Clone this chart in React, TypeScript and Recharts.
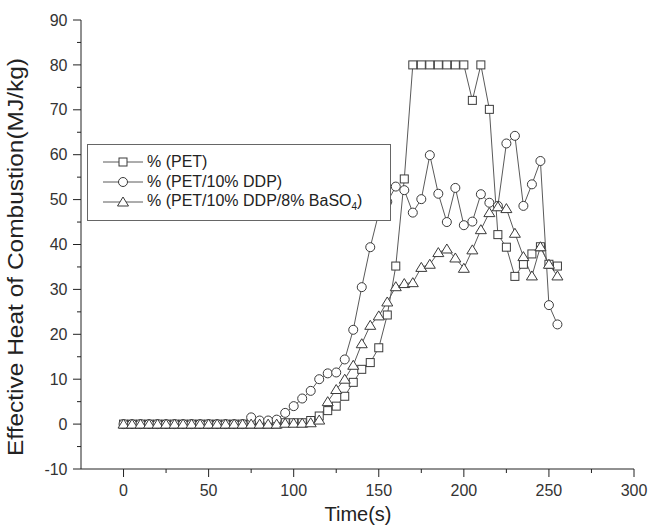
import { LineChart, Line, XAxis, YAxis, Label } from 'recharts'

const times = [
  0, 5, 10, 15, 20, 25, 30, 35, 40, 45, 50, 55, 60, 65, 70, 75, 80, 85, 90, 95,
  100, 105, 110, 115, 120, 125, 130, 135, 140, 145, 150, 155, 160, 165, 170, 175, 180, 185, 190, 195,
  200, 205, 210, 215, 220, 225, 230, 235, 240, 245, 250, 255,
]

// % (PET) - squares
const petValues = [
  0, 0, 0, 0, 0, 0, 0, 0, 0, 0, 0, 0, 0, 0, 0, 0, 0, 0, 0, 0.3,
  0.3, 0.3, 0.8, 1.8, 3.0, 4.0, 6.2, 9.3, 12.2, 13.7, 17.0, 24.3, 35.2, 54.6, 80, 80, 80, 80, 80, 80,
  80, 72.1, 80, 70.1, 42.2, 39.4, 32.9, 35.6, 37.9, 39.5, 35.6, 35.2,
]

// % (PET/10% DDP) - circles
const ddpValues = [
  0, 0, 0, 0, 0, 0, 0, 0, 0, 0, 0, 0, 0, 0, 0, 1.5, 0.8, 0.8, 1.0, 2.5,
  4.0, 5.7, 7.4, 10.0, 11.3, 11.5, 14.4, 21.0, 30.5, 39.4, 47.0, 49.5, 52.9, 52.1, 47.1, 50.1, 59.9, 51.3, 45.0, 52.6,
  44.3, 45.1, 51.2, 49.3, 48.6, 62.5, 64.2, 48.6, 53.4, 58.6, 26.5, 22.2,
]

// % (PET/10% DDP/8% BaSO4) - triangles
const basoValues = [
  0, 0, 0, 0, 0, 0, 0, 0, 0, 0, 0, 0, 0, 0, 0, 0, 0, 0, 0, 0.2,
  0.2, 0.2, 0.3, 0.9, 5.0, 7.7, 10.0, 13.1, 17.9, 22.0, 24.1, 27.2, 30.6, 31.3, 31.5, 34.9, 35.6, 38.2, 39.0, 37.0,
  34.7, 38.8, 43.3, 47.1, 48.4, 48.0, 42.5, 37.3, 33.0, 39.5, 35.6, 33.0,
]

const xTicks = [0, 25, 50, 75, 100, 125, 150, 175, 200, 225, 250, 275, 300]
const yTicks = [-10, -5, 0, 5, 10, 15, 20, 25, 30, 35, 40, 45, 50, 55, 60, 65, 70, 75, 80, 85, 90]

const data = times.map((t, i) => ({ t, pet: petValues[i], ddp: ddpValues[i], baso: basoValues[i] }))

const FONT = '"Liberation Sans", Arial, sans-serif'
const LINE = '#5a5a5a'
const MARK = '#3a3a3a'

function marker(shape: string, cx: number, cy: number, key?: any) {
  if (shape === 'square')
    return <rect key={key} x={cx - 4} y={cy - 4} width={8} height={8} fill="#fff" stroke={MARK} />
  if (shape === 'circle')
    return <circle key={key} cx={cx} cy={cy} r={4.5} fill="#fff" stroke={MARK} />
  return <path key={key} d={`M${cx},${cy - 5}L${cx + 5.5},${cy + 4}L${cx - 5.5},${cy + 4}Z`} fill="#fff" stroke={MARK} />
}

const dotFor = (shape: string) => (props: any) => {
  const { cx, cy, index } = props
  if (cx == null || cy == null) return <g key={index} />
  return marker(shape, cx, cy, index)
}

const XTick = (props: any) => {
  const { x, y, payload } = props
  const major = payload.value % 50 === 0
  return (
    <g>
      <line x1={x} x2={x} y1={y} y2={y + (major ? 8 : 4)} stroke="#222" />
      {major && (
        <text x={x} y={y + 21} dy="0.35em" textAnchor="middle" fontSize={16} fill="#333" fontFamily={FONT}>
          {payload.value}
        </text>
      )}
    </g>
  )
}

const YTick = (props: any) => {
  const { x, y, payload } = props
  const major = payload.value % 10 === 0
  return (
    <g>
      <line x1={x} x2={x - (major ? 8 : 4)} y1={y} y2={y} stroke="#222" />
      {major && (
        <text x={x - 13.5} y={y} dy="0.35em" textAnchor="end" fontSize={16} fill="#333" fontFamily={FONT}>
          {payload.value}
        </text>
      )}
    </g>
  )
}

const legendItems = [
  { shape: 'square', label: <>% (PET)</> },
  { shape: 'circle', label: <>% (PET/10% DDP)</> },
  { shape: 'triangle', label: <>% (PET/10% DDP/8% BaSO<sub style={{ fontSize: 10 }}>4</sub>)</> },
]

export default function App() {
  return (
    <div style={{ position: 'absolute', left: 0, top: 0, width: 650, height: 529, background: '#fff' }}>
      <LineChart width={650} height={529} data={data} margin={{ top: 20, right: 16, bottom: 20, left: 0 }}>
        <XAxis
          dataKey="t"
          type="number"
          domain={[-25, 300]}
          ticks={xTicks}
          interval={0}
          height={40}
          tickSize={0}
          tickMargin={0}
          tickLine={false}
          tick={<XTick />}
          axisLine={{ stroke: '#222' }}
          allowDataOverflow
        >
          <Label
            content={() => (
              <text x={358} y={521} textAnchor="middle" fontSize={20} fill="#222" fontFamily={FONT}>
                Time(s)
              </text>
            )}
          />
        </XAxis>
        <YAxis
          type="number"
          domain={[-10, 90]}
          ticks={yTicks}
          interval={0}
          width={81}
          tickSize={0}
          tickMargin={0}
          tickLine={false}
          tick={<YTick />}
          axisLine={{ stroke: '#222' }}
          allowDataOverflow
        >
          <Label
            content={() => (
              <text
                transform="rotate(-90)"
                x={-257}
                y={23}
                textAnchor="middle"
                fontSize={22}
                textLength={398}
                lengthAdjust="spacingAndGlyphs"
                fill="#222"
                fontFamily={FONT}
              >
                Effective Heat of Combustion(MJ/kg)
              </text>
            )}
          />
        </YAxis>
        <Line dataKey="pet" type="linear" stroke={LINE} strokeWidth={1} dot={dotFor('square')} activeDot={false} isAnimationActive={false} />
        <Line dataKey="ddp" type="linear" stroke={LINE} strokeWidth={1} dot={dotFor('circle')} activeDot={false} isAnimationActive={false} />
        <Line dataKey="baso" type="linear" stroke={LINE} strokeWidth={1} dot={dotFor('triangle')} activeDot={false} isAnimationActive={false} />
      </LineChart>
      <div
        style={{
          position: 'absolute', left: 87, top: 144, width: 304, height: 77, boxSizing: 'border-box',
          border: '1px solid #666', background: '#fff', fontFamily: FONT, fontSize: 16, color: '#222',
        }}
      >
        {legendItems.map((item, i) => (
          <div key={i} style={{ position: 'absolute', left: 0, top: 6.7 + i * 20, height: 20, display: 'flex', alignItems: 'center', whiteSpace: 'nowrap' }}>
            <svg width={59} height={20} style={{ display: 'block' }}>
              <line x1={15} x2={55} y1={10} y2={10} stroke={LINE} />
              {marker(item.shape, 35, 10)}
            </svg>
            <span>{item.label}</span>
          </div>
        ))}
      </div>
    </div>
  )
}
